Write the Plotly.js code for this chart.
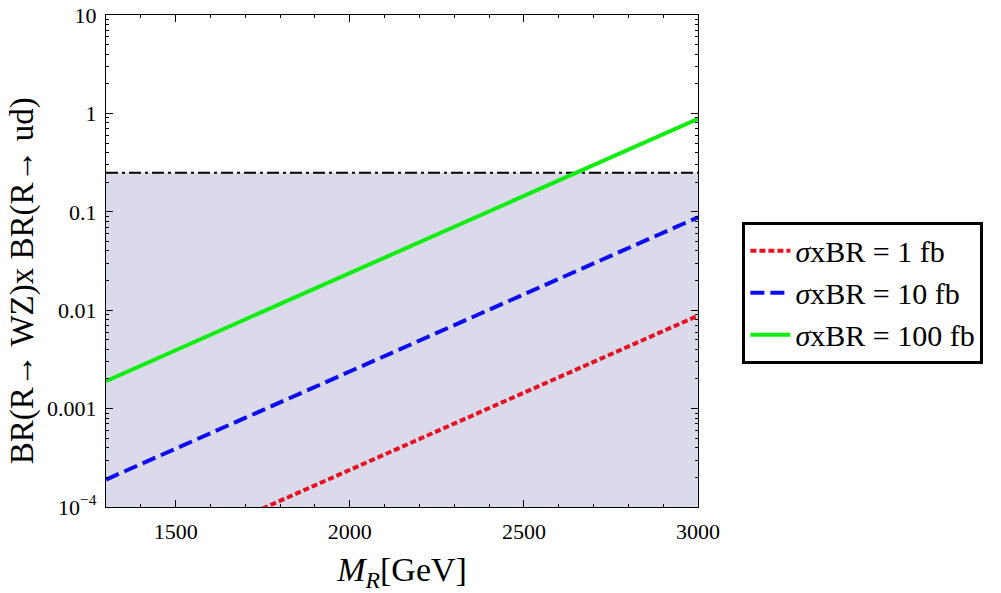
<!DOCTYPE html>
<html>
<head>
<meta charset="utf-8">
<script src="https://cdn.plot.ly/plotly-3.0.1.min.js"></script>
<style>
  html, body { margin: 0; padding: 0; background: #ffffff; }
  #chart { width: 1001px; height: 593px; }
</style>
</head>
<body>
<div id="chart"></div>
<script>
const CHART = document.getElementById('chart');

// mass points (GeV) and BR products
const massR = [1300, 1500, 2000, 2500, 3000];
const br100fb = [0.0019, 0.0039, 0.024, 0.145, 0.88];
const br10fb = [0.00019, 0.00039, 0.0024, 0.0145, 0.088];
const br1fb = [0.000019, 0.000039, 0.00024, 0.00145, 0.0088];

// allowed region: from the floor of the plot up to the bound
const boundX = [1300, 3000];
const boundTop = [0.25, 0.25];
const boundFloor = [0.0001, 0.0001];

const yTickVals = [0.0001, 0.001, 0.01, 0.1, 1, 10];
const yTickText = ['10<sup>\u22124</sup>', '0.001', '0.01', '0.1', '1', '10'];
const xTickVals = [1500, 2000, 2500, 3000];

const SERIF = 'Liberation Serif';

// minor ticks 2..9 in every decade
function log_minor() {
    const out = [];
    for (let e = -4; e < 1; e++) {
        for (let m = 2; m <= 9; m++) {
            out.push(m * Math.pow(10, e));
        }
    }
    return out;
}

function build_traces() {
    return [
        {
            x: boundX, y: boundFloor, mode: 'lines',
            line: {width: 0}, hoverinfo: 'skip', showlegend: false
        },
        {
            x: boundX, y: boundTop, mode: 'lines', fill: 'tonexty',
            fillcolor: '#dadaeb',
            line: {color: '#000000', width: 2, dash: '12px,4px,3px,4px'},
            showlegend: false
        },
        {
            x: massR, y: br1fb, mode: 'lines', name: '<i>\u03c3</i>xBR = 1 fb',
            legendgroup: 'a',
            line: {color: '#e8101e', width: 4, dash: '6px,3px'}
        },
        {
            x: massR, y: br10fb, mode: 'lines', name: '<i>\u03c3</i>xBR = 10 fb',
            legendgroup: 'b',
            line: {color: '#0c0cf0', width: 4, dash: '14px,6px'}
        },
        {
            x: massR, y: br100fb, mode: 'lines', name: '<i>\u03c3</i>xBR = 100 fb',
            legendgroup: 'c',
            line: {color: '#10ee10', width: 4}
        }
    ];
}

function plot() {
    const axisCommon = {
        showline: true, linecolor: '#000000', linewidth: 1.2,
        mirror: 'ticks', ticks: 'inside', ticklen: 7, tickwidth: 1,
        tickcolor: '#000000', showgrid: false, zeroline: false,
        tickfont: {family: SERIF, size: 22, color: '#000000'}
    };

    const layout = {
        width: 1001, height: 593,
        margin: {l: 106, r: 303, t: 15, b: 86},
        paper_bgcolor: '#ffffff', plot_bgcolor: '#ffffff',
        font: {family: SERIF, color: '#000000'},
        xaxis: Object.assign({}, axisCommon, {
            range: [1300, 3000],
            tickmode: 'array',
            tickvals: xTickVals,
            ticklabelstandoff: 4,
            minor: {tickmode: 'linear', tick0: 1300, dtick: 100, ticks: 'inside', ticklen: 3, tickcolor: '#000000', showgrid: false},
            title: {text: '<i>M</i><sub><i>R</i></sub>[GeV]', font: {family: SERIF, size: 34}, standoff: 14}
        }),
        yaxis: Object.assign({}, axisCommon, {
            type: 'log',
            range: [-4, 1],
            tickmode: 'array',
            tickvals: yTickVals,
            ticktext: yTickText,
            ticklabelstandoff: 4,
            minor: {tickmode: 'array', tickvals: log_minor(), ticks: 'inside', ticklen: 3, tickcolor: '#000000', showgrid: false},
            title: {text: ''}
        }),
        annotations: [{
            text: 'BR(R\u2192 WZ)x BR(R\u2192 ud)',
            xref: 'paper', yref: 'paper', x: -0.141, y: 0.46,
            xanchor: 'center', yanchor: 'middle', textangle: -90,
            showarrow: false, font: {family: SERIF, size: 33, color: '#000000'}
        }],
        legend: {
            x: 1.075, y: 0.58, xanchor: 'left', yanchor: 'top',
            traceorder: 'normal',
            bgcolor: '#ffffff', bordercolor: '#000000', borderwidth: 3,
            font: {family: SERIF, size: 30, color: '#000000'},
            tracegroupgap: 12, itemwidth: 40
        },
        showlegend: true
    };

    Plotly.newPlot(CHART, build_traces(), layout, {staticPlot: true});
}

plot();
</script>
</body>
</html>
